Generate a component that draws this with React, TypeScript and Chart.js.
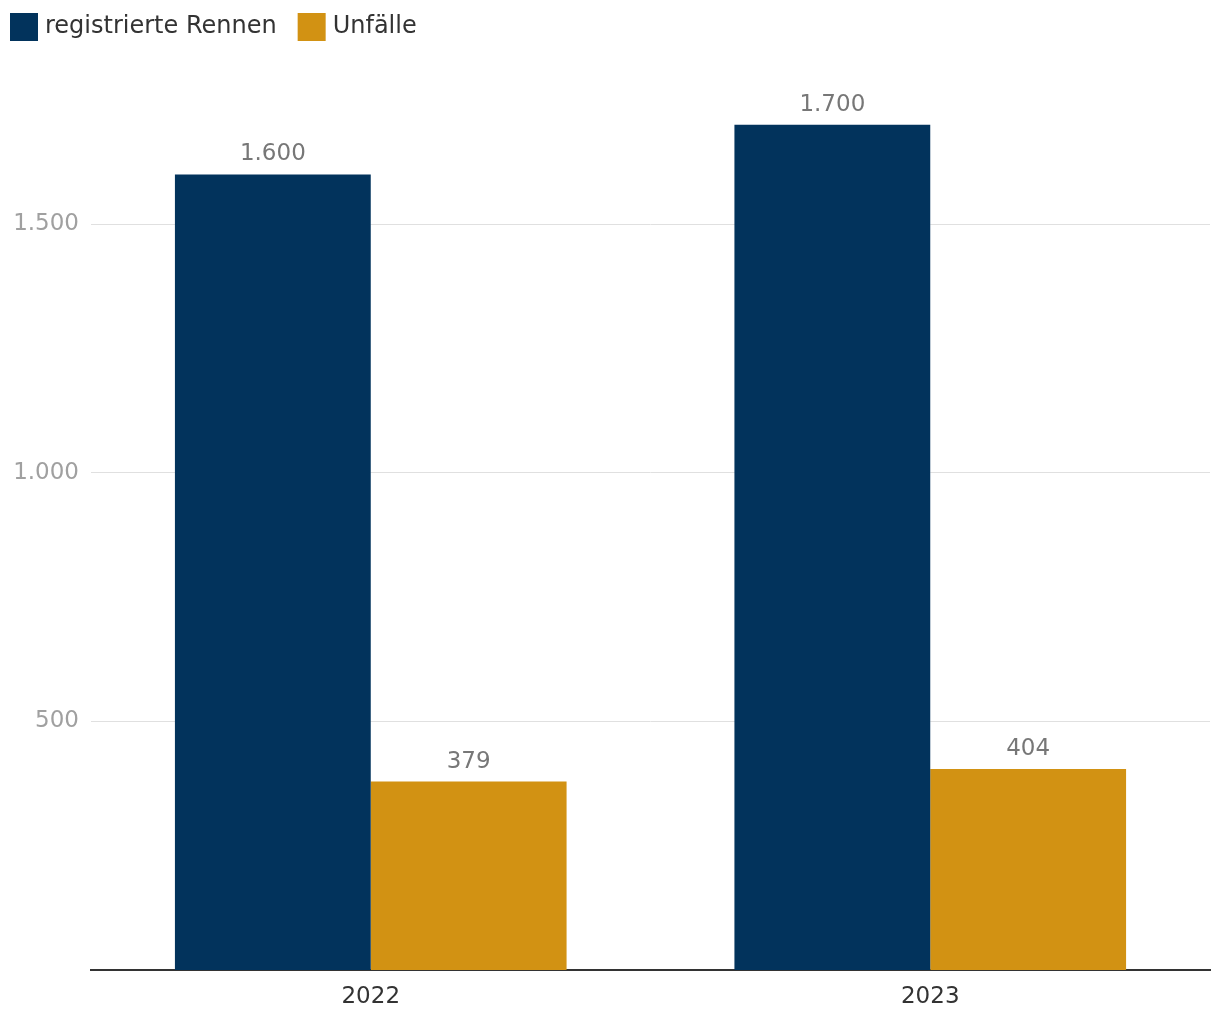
import React, { useEffect, useRef } from "react";
import { Chart, registerables } from "chart.js";

Chart.register(...registerables);

const categories = ["2022", "2023"];
const seriesNames = ["registrierte Rennen", "Unfälle"];
const rennen = [1600, 1700];
const unfaelle = [379, 404];
const seriesColors = ["#02335c", "#d29213"];
const yTicks = [500, 1000, 1500];

const FONT = "'DejaVu Sans', Verdana, sans-serif";
const fmt = (v: number) => v.toLocaleString("de-DE");

const legendPlugin = {
  id: "customLegend",
  afterDraw(chart: any) {
    const ctx = chart.ctx;
    ctx.save();
    ctx.font = `24px ${FONT}`;
    ctx.textBaseline = "middle";
    ctx.textAlign = "left";
    let x = 10;
    const y = 13;
    const box = 28;
    chart.data.datasets.forEach((ds: any) => {
      ctx.fillStyle = ds.backgroundColor;
      ctx.fillRect(x, y, box, box);
      ctx.fillStyle = "#333333";
      ctx.fillText(ds.label, x + box + 7, y + box / 2);
      const w = ctx.measureText(ds.label).width;
      x += box + 7 + w + 21;
    });
    ctx.restore();
  },
};

const valueLabelPlugin = {
  id: "valueLabels",
  afterDatasetsDraw(chart: any) {
    const ctx = chart.ctx;
    ctx.save();
    ctx.font = `23px ${FONT}`;
    ctx.fillStyle = "#777777";
    ctx.textAlign = "center";
    ctx.textBaseline = "alphabetic";
    chart.data.datasets.forEach((ds: any, i: number) => {
      const meta = chart.getDatasetMeta(i);
      meta.data.forEach((el: any, j: number) => {
        ctx.fillText(fmt(ds.data[j]), el.x, el.y - 14);
      });
    });
    ctx.restore();
  },
};

export default function App() {
  const ref = useRef<HTMLCanvasElement>(null);
  useEffect(() => {
    if (!ref.current) return;
    const chart = new Chart(ref.current, {
      type: "bar",
      data: {
        labels: categories,
        datasets: [
          {
            label: seriesNames[0],
            data: rennen,
            backgroundColor: seriesColors[0],
            categoryPercentage: 0.7,
            barPercentage: 1.0,
          },
          {
            label: seriesNames[1],
            data: unfaelle,
            backgroundColor: seriesColors[1],
            categoryPercentage: 0.7,
            barPercentage: 1.0,
          },
        ],
      },
      options: {
        animation: false,
        responsive: false,
        maintainAspectRatio: false,
        layout: { padding: { top: 75, right: 10, left: 0, bottom: 0 } },
        plugins: {
          legend: { display: false },
          tooltip: { enabled: false },
        },
        scales: {
          x: {
            grid: { display: false, drawTicks: false },
            border: { display: true, color: "#333333", width: 2 },
            ticks: {
              font: { family: FONT, size: 23 },
              color: "#333333",
              padding: 13,
            },
            afterFit(scale: any) {
              scale.height = 50;
            },
          },
          y: {
            min: 0,
            max: 1800,
            border: { display: false },
            grid: { color: "#e0e0e0", lineWidth: 1, drawTicks: false },
            ticks: {
              font: { family: FONT, size: 23 },
              color: "#a0a0a0",
              padding: 12,
              callback: (v: any) => fmt(Number(v)),
            },
            afterBuildTicks(scale: any) {
              scale.ticks = yTicks.map((v) => ({ value: v }));
            },
            afterFit(scale: any) {
              scale.width = 91;
            },
          },
        },
      },
      plugins: [legendPlugin, valueLabelPlugin],
    });
    return () => chart.destroy();
  }, []);
  return (
    <div style={{ position: "absolute", left: 0, top: 0, width: 1220, height: 1020, background: "#fff" }}>
      <canvas ref={ref} width={1220} height={1020} style={{ display: "block", width: 1220, height: 1020 }} />
    </div>
  );
}
